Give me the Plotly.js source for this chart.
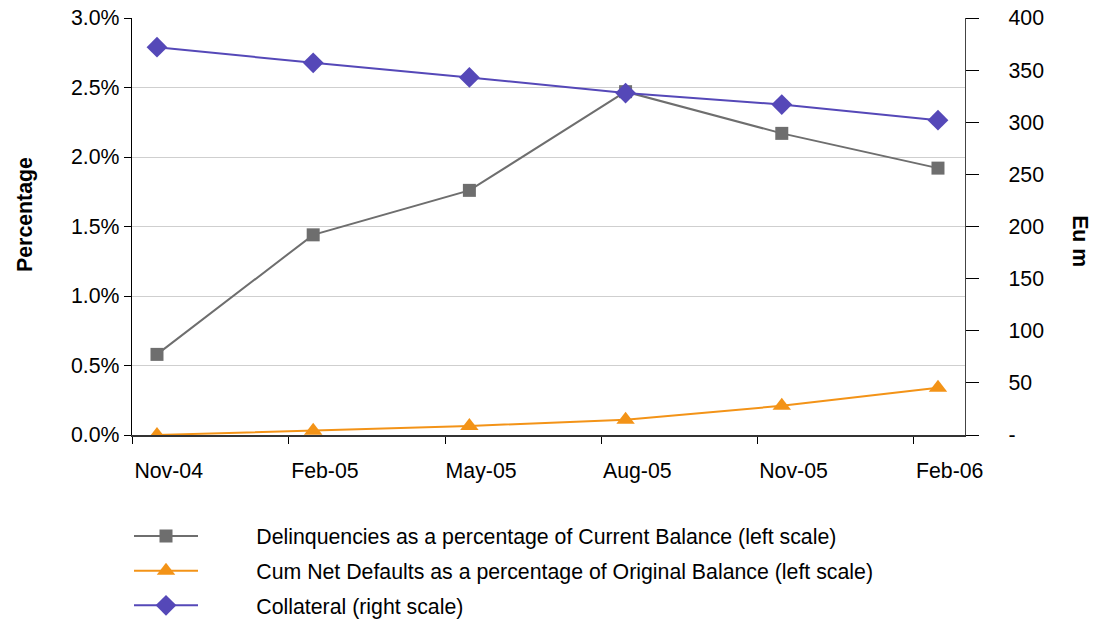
<!DOCTYPE html>
<html>
<head>
<meta charset="utf-8">
<script src="https://cdn.plot.ly/plotly-3.0.1.min.js"></script>
<style>
  html, body { margin: 0; padding: 0; background: #fff; }
  #chart { width: 1095px; height: 622px; }
</style>
</head>
<body>
<div id="chart"></div>
<script>
// Quarterly reporting dates
const categories = ['Nov-04', 'Feb-05', 'May-05', 'Aug-05', 'Nov-05', 'Feb-06'];

// Left scale, in percent
const delinquencies = [0.58, 1.44, 1.76, 2.47, 2.17, 1.92];
const cumNetDefaults = [0.00, 0.03, 0.065, 0.11, 0.21, 0.34];

// Right scale, Eu m
const collateral = [372, 357, 343, 328, 317, 302];

// Axis tick labels
const leftTicks = [0, 0.5, 1.0, 1.5, 2.0, 2.5, 3.0];
const rightTicks = [0, 50, 100, 150, 200, 250, 300, 350, 400];
const rightTickText = ['-', '50', '100', '150', '200', '250', '300', '350', '400'];

const seriesNames = [
  'Delinquencies as a percentage of Current Balance (left scale)',
  'Cum Net Defaults as a percentage of Original Balance (left scale)',
  'Collateral (right scale)'
];

const FONT = 'Liberation Sans, Arial, sans-serif';
const FS = 21.3;
const GRAY = '#6e6e6e';
const ORANGE = '#f39317';
const PURPLE = '#5548b8';

// Gap between legend symbol and its label
const LEGEND_PAD = '\u00a0'.repeat(9);

// Each reporting date sits a little after the quarter boundary tick
const idx = categories.map((_, i) => i);
const tickOffset = -0.155;
const labelOffset = 0.075;
const xRange = [-0.16, 5.173];

const traces = [
  {
    x: idx, y: delinquencies, name: LEGEND_PAD + seriesNames[0], type: 'scatter', mode: 'lines+markers',
    line: { color: GRAY, width: 2 },
    marker: { symbol: 'square', size: 13, color: GRAY },
    legendgroup: 'a', xaxis: 'x', yaxis: 'y'
  },
  {
    x: idx, y: cumNetDefaults, name: LEGEND_PAD + seriesNames[1], type: 'scatter', mode: 'lines+markers',
    line: { color: ORANGE, width: 2 },
    marker: { symbol: 'triangle-up', size: 16, color: ORANGE },
    legendgroup: 'b', xaxis: 'x', yaxis: 'y'
  },
  {
    x: idx, y: collateral, name: LEGEND_PAD + seriesNames[2], type: 'scatter', mode: 'lines+markers',
    line: { color: PURPLE, width: 2 },
    marker: { symbol: 'diamond', size: 16, color: PURPLE },
    legendgroup: 'c', xaxis: 'x2', yaxis: 'y2'
  }
];

const layout = {
  width: 1095, height: 622,
  margin: { l: 132, r: 130, t: 18, b: 187 },
  paper_bgcolor: '#fff', plot_bgcolor: '#fff',
  font: { family: FONT, size: FS, color: '#000' },
  showlegend: true,
  legend: {
    xref: 'paper', yref: 'container',
    x: -0.0036, xanchor: 'left', y: 0.171, yanchor: 'top',
    font: { family: FONT, size: FS, color: '#000' },
    tracegroupgap: 4, itemwidth: 64,
    bgcolor: 'rgba(0,0,0,0)'
  },
  xaxis: {
    range: xRange, showgrid: false, zeroline: false,
    showline: true, linecolor: '#333', linewidth: 1.5,
    tickmode: 'array', tickvals: idx.map(i => i + tickOffset),
    showticklabels: false, ticks: 'outside', ticklen: 7, tickcolor: '#000', tickwidth: 1,
    fixedrange: true
  },
  xaxis2: {
    overlaying: 'x', anchor: 'y', side: 'bottom',
    range: xRange, showgrid: false, zeroline: false, showline: false,
    tickmode: 'array', tickvals: idx.map(i => i + labelOffset), ticktext: categories,
    ticks: '', ticklabelstandoff: 21, tickangle: 0, automargin: false,
    tickfont: { family: FONT, size: FS, color: '#000' },
    fixedrange: true
  },
  yaxis: {
    range: [0, 3.0], tickmode: 'array', tickvals: leftTicks,
    ticktext: leftTicks.map(v => v.toFixed(1) + '%'),
    showgrid: true, gridcolor: '#cfcfcf', gridwidth: 1,
    zeroline: false, showline: true, linecolor: '#000', linewidth: 1.2,
    ticks: 'outside', ticklen: 7, tickcolor: '#000', automargin: false,
    tickfont: { family: FONT, size: FS, color: '#000' },
    fixedrange: true
  },
  yaxis2: {
    overlaying: 'y', side: 'right', anchor: 'x2',
    range: [0, 400], tickmode: 'array', tickvals: rightTicks, ticktext: rightTickText,
    showgrid: false, zeroline: false, showline: true, linecolor: '#444', linewidth: 1.2,
    ticks: 'outside', ticklen: 13, tickcolor: '#000', ticklabelstandoff: 25, automargin: false,
    tickfont: { family: FONT, size: FS, color: '#000' },
    fixedrange: true
  },
  annotations: [
    {
      text: '<b>Percentage</b>', xref: 'paper', yref: 'paper',
      x: -0.1285, y: 0.530, xanchor: 'center', yanchor: 'middle',
      textangle: -90, showarrow: false,
      font: { family: FONT, size: FS, color: '#000' }
    },
    {
      text: '<b>Eu m</b>', xref: 'paper', yref: 'paper',
      x: 1.138, y: 0.465, xanchor: 'center', yanchor: 'middle',
      textangle: 90, showarrow: false,
      font: { family: FONT, size: FS, color: '#000' }
    }
  ]
};

Plotly.newPlot('chart', traces, layout, { displayModeBar: false, staticPlot: true });
</script>
</body>
</html>
